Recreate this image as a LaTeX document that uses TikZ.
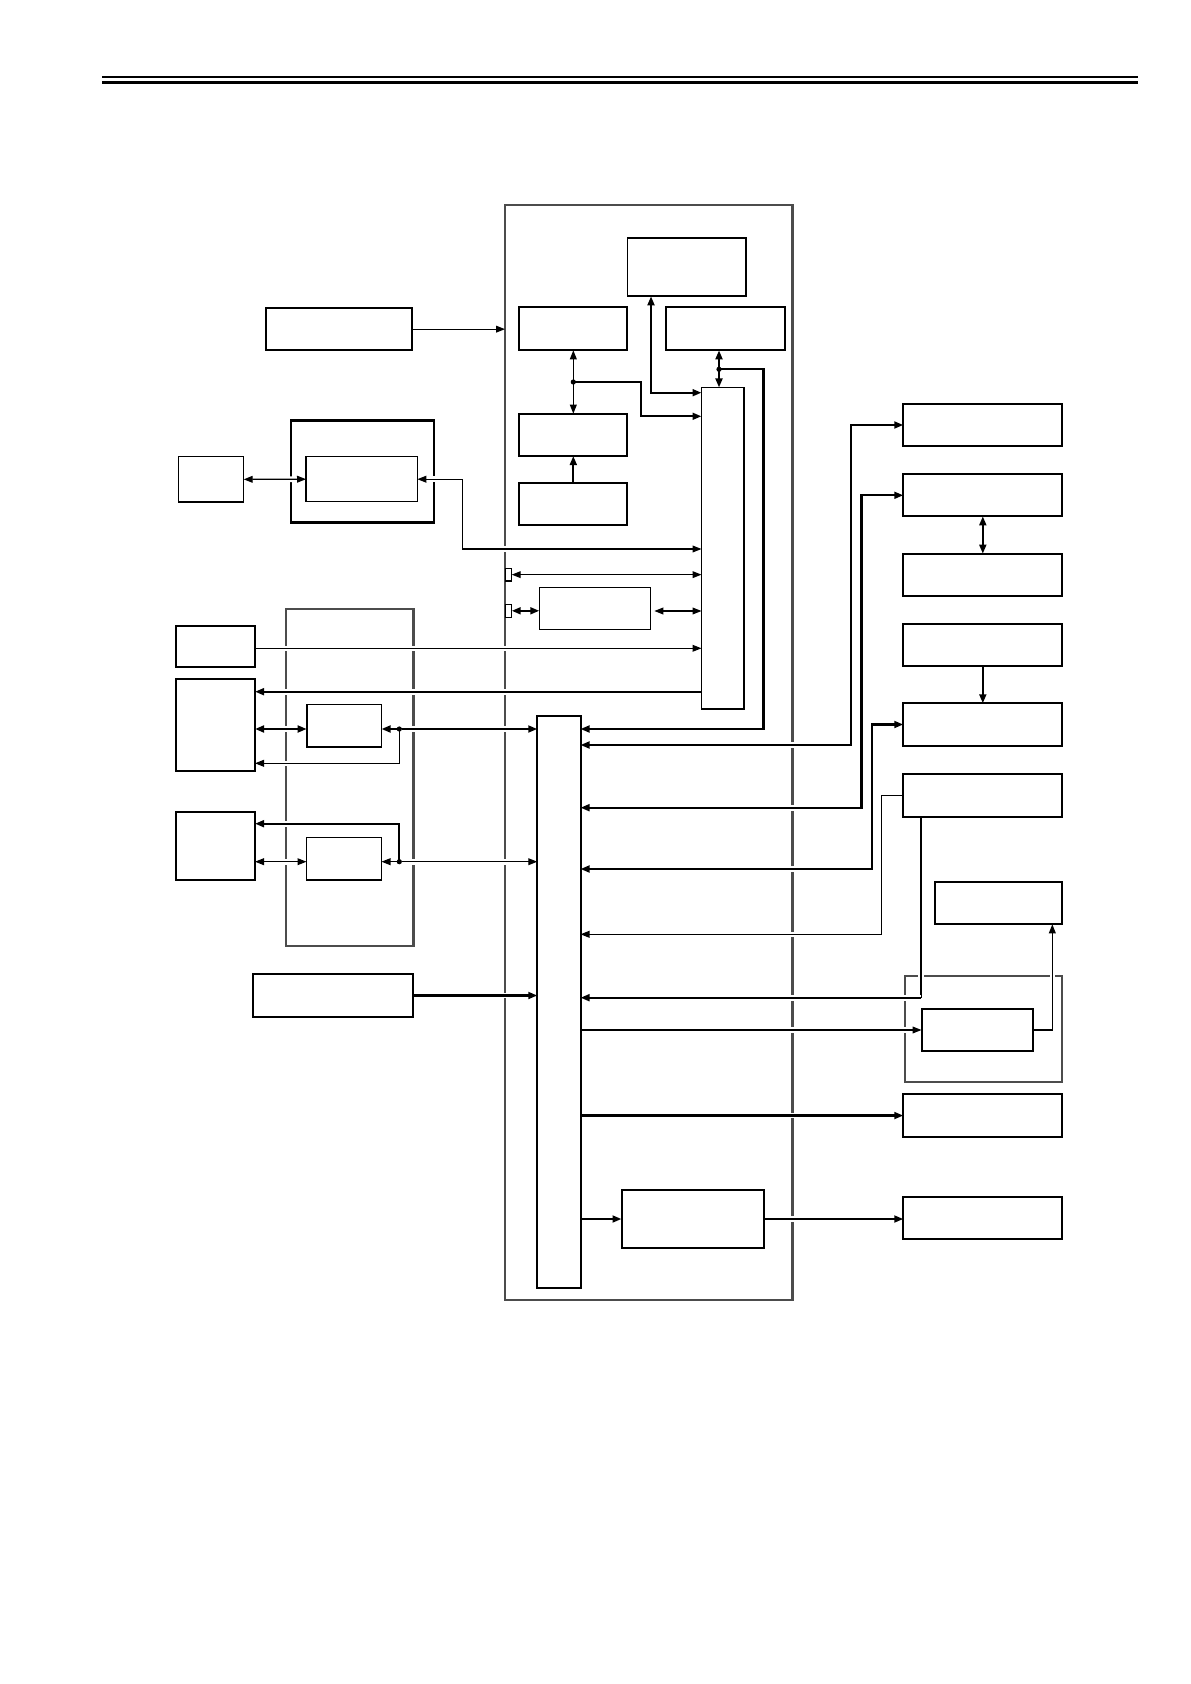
\documentclass[tikz,border=0pt]{standalone}
\usetikzlibrary{arrows.meta,fit}
\pgfdeclarelayer{bg}
\pgfdeclarelayer{fg}
\pgfsetlayers{bg,main,fg}

\begin{document}
\begin{tikzpicture}[x=0.5pt,y=-0.5pt,
  box/.style={draw,line width=1pt,inner sep=0pt,outer sep=0pt},
  frm/.style={draw=black!70,line width=1.1pt,inner sep=0pt,outer sep=0pt},
  thn/.style={line width=0.6pt},
  thk/.style={line width=1.1pt},
  gap/.style={preaction={draw=white,line width=2.8pt,-}},
  >={Triangle[length=4.5pt,width=3.4pt]}]
\useasboundingbox (0,0) rectangle (1190,1684);
% header rule
\draw[line width=0.6pt] (102,77) -- (1138,77);
\draw[line width=1.6pt] (102,82.5) -- (1138,82.5);

\begin{pgfonlayer}{bg}
\node[frm,fit={(505,205) (792.5,1300)}] (board) {};
\node[frm,fit={(286.3,609) (413.5,945.7)}] (lfrm) {};
\node[box,line width=1.3pt,fit={(291,420.7) (434,522.7)}] (gfrm) {};
\node[frm,fit={(905,976.3) (1062.3,1082)}] (sfrm) {};
\end{pgfonlayer}

\begin{pgfonlayer}{fg}
% inside the board
\node[box,line width=0.8pt,fit={(627.3,238.3) (746,296.3)}] (mem) {};
\node[box,fit={(519.3,307.3) (627.3,350.3)}] (ul) {};
\node[box,fit={(666.3,307.3) (785.3,350.3)}] (ur) {};
\node[box,fit={(519.3,413.7) (627.3,456)}] (ml) {};
\node[box,fit={(519.3,482.7) (627.3,524.7)}] (ll) {};
\node[box,line width=0.8pt,fit={(701.5,387.5) (744,709)}] (cpu) {};
\node[box,line width=0.6pt,fit={(505.7,568.3) (511.7,581)}] (tab1) {};
\node[box,line width=0.6pt,fit={(505.7,604.3) (511.7,617.3)}] (tab2) {};
\node[box,line width=0.7pt,fit={(539.3,587.3) (650.3,629.3)}] (ctl) {};
\node[box,fit={(537.3,715.7) (580.5,1287.7)}] (bus) {};
\node[box,fit={(621.5,1190.3) (763.8,1247.7)}] (drv) {};
% left side
\node[box,fit={(266.4,308.2) (412.4,350.1)}] (src) {};
\node[box,line width=0.7pt,fit={(178.3,456.7) (243.7,502)}] (ext) {};
\node[box,line width=0.7pt,fit={(306,456.7) (417.3,501.7)}] (gin) {};
\node[box,fit={(175.7,625.7) (255,667.3)}] (sw) {};
\node[box,fit={(175.7,678.7) (255,771.3)}] (pnl) {};
\node[box,line width=0.8pt,fit={(306.7,704.3) (381.5,747)}] (m1) {};
\node[box,fit={(175.7,811.7) (255,880)}] (pnl2) {};
\node[box,line width=0.8pt,fit={(306.5,837.3) (381.5,880)}] (m2) {};
\node[box,fit={(253.4,974.3) (413.3,1016.7)}] (pwr) {};
% right side
\foreach \n/\t/\b in {r1/404/446,r2/474.3/516.3,r3/553.7/596,r4/624.3/666.3,
  r5/703.3/745.7,r6/774.3/816.7,r7/1094.4/1136.7,r8/1196.7/1239.3}
  \node[box,fit={(903.3,\t) (1062.3,\b)}] (\n) {};
\node[box,fit={(934.5,881.7) (1062.3,924.3)}] (opt) {};
\node[box,fit={(921.5,1009) (1032.5,1051)}] (sub) {};
\end{pgfonlayer}

\coordinate (jA) at (ul.south |- 0,382);
\coordinate (jB) at (719,369.3);
\coordinate (jM1) at (399.3,729);
\coordinate (jM2) at (399.3,861.7);
\coordinate (k6) at (921,997.7);

% board, upper part
\draw[thn,->] (src.east) -- (board.west |- src.east);
\draw[thn,<->] (ul.south) -- (ml.north);
\draw[thk,->] (ll.north) -- (ml.south);
\draw[thk,->] (jA) -- (jA -| 640.7,0) |- (cpu.west |- 0,416.3);
\draw[thk,<->] (cpu.west |- 0,392.7) -| (mem.south -| 651,0);
\draw[thk,<->] (ur.south -| jB) -- (cpu.north -| jB);
\draw[thk,->] (jB) -- (jB -| 763.5,0) |- (bus.east |- 0,729);
\draw[thn,<->] (tab1.east) -- (cpu.west |- tab1.east);
\draw[thk,<->] (tab2.east) -- (ctl.west |- tab2.east);
\draw[thn,<->,shorten <=2pt] (ctl.east |- 0,611) -- (cpu.west |- 0,611);

% left side
\draw[thn,<->,gap] (ext.east) -- (gin.west);
\draw[thn,<->,gap] (gin.east) -- (gin.east -| 462.7,0) |- (cpu.west |- 0,549);
\draw[thn,->,gap] (sw.east |- 0,648.3) -- (cpu.west |- 0,648.3);
\draw[thk,->,gap] (cpu.west |- 0,691.7) -- (pnl.east |- 0,691.7);
\draw[thk,<->,gap] (pnl.east |- jM1) -- (m1.west |- jM1);
\draw[thk,<->,gap] (m1.east |- jM1) -- (bus.west |- jM1);
\draw[thn,->,gap] (jM1) |- (pnl.east |- 0,763.3);
\draw[thn,<->,gap] (pnl2.east |- jM2) -- (m2.west |- jM2);
\draw[thn,<->,gap] (m2.east |- jM2) -- (bus.west |- jM2);
\draw[thk,->,gap] (jM2) |- (pnl2.east |- 0,823.7);
\draw[thk,->,gap] (pwr.east) -- (bus.west |- pwr.east);

% right side
\draw[thk,<->,gap] (bus.east |- 0,745) -| (r1.west -| 850.7,0) -- (r1.west);
\draw[thk,<->,gap] (bus.east |- 0,807.7) -| (r2.west -| 861.5,0) -- (r2.west);
\draw[thk,<->,gap] (bus.east |- 0,869) -| (r5.west -| 872,0) -- (r5.west);
\draw[thn,->,gap] (r6.west) -- (r6.west -| 881.5,0) |- (bus.east |- 0,934.3);
\draw[thn,gap] (r6.south -| k6) -- (k6);
\draw[thk,->,gap] (k6) -- (bus.east |- k6);
\draw[thn,->,gap] (bus.east |- sub.west) -- (sub.west);
\draw[thn,->,gap] (sub.east) -| (opt.south -| 1052.3,0);
\draw[thk,<->] (r2.south) -- (r3.north);
\draw[thk,->] (r4.south) -- (r5.north);
\draw[thk,->,gap] (bus.east |- r7.west) -- (r7.west);
\draw[thk,->] (bus.east |- drv.west) -- (drv.west);
\draw[thk,->,gap] (drv.east) -- (r8.west |- drv.east);

\begin{pgfonlayer}{fg}
\foreach \j in {jA,jB,jM1,jM2} \fill (\j) circle[radius=1.3pt];
\end{pgfonlayer}
\end{tikzpicture}
\end{document}
